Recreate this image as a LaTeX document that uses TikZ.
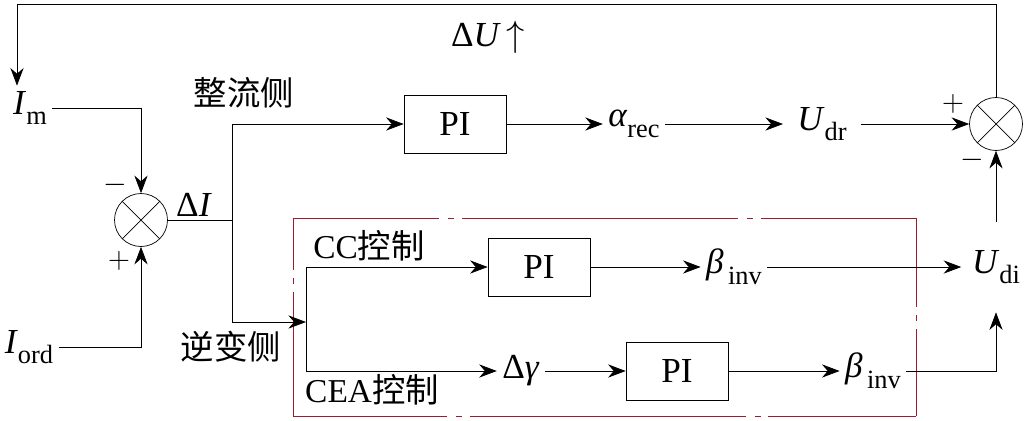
\documentclass[tikz,border=0pt]{standalone}
\usepackage{fontspec}
\setmainfont{Liberation Serif}
\newfontfamily\cjk{Noto Sans CJK SC}
\usetikzlibrary{arrows.meta,positioning,calc}
\definecolor{boxred}{RGB}{160,25,45}
\newcommand{\sg}[2]{\textit{#1}\raisebox{-0.3em}{\fontsize{15}{15}\selectfont #2}}
\tikzset{
    -{Stealth[length=10pt,width=7.5pt]},line width=1pt,
    block/.style={rectangle,draw,minimum width=2.04cm,minimum height=1.16cm,font=\fontsize{20}{22}\selectfont},
    sum/.style={circle,draw,minimum size=1.06cm,inner sep=0pt,
        path picture={\draw[-] (path picture bounding box.north west) -- (path picture bounding box.south east)
            (path picture bounding box.north east) -- (path picture bounding box.south west);}},
    sig/.style={inner sep=3pt,font=\fontsize{20}{22}\selectfont},
    pm/.style={inner sep=0pt,font=\fontsize{18}{20}\selectfont},
    cn/.style={inner sep=0pt,font=\fontsize{19}{22}\selectfont},
    redside/.style={-,draw=boxred,dash pattern=on 157pt off 5pt on 3.4pt off 4.5pt,dash phase=#1}
}
\begin{document}
\begin{tikzpicture}[x=0.02cm,y=-0.02cm]
    \useasboundingbox (0,0) rectangle (1027,420);

    % summing points
    \node[sum] (sumL) at (141,220) {};
    \node[sum] (sumR) at (996,124) {};
    \node[pm] (mL) at (115,185) {$-$};
    \node[pm] (pL) at (119,261) {$+$};
    \node[pm] (pR) at (953,104) {$+$};
    \node[pm] (mR) at (972,160) {$-$};

    % inputs
    \node[sig] (Im) at (30,108) {\sg{I}{m}};
    \node[sig] (Iord) at (29,347) {\sg{I}{ord}};
    \node[sig] (dI) at (194,205) {Δ\textit{I}};
    \node[sig] (dU) at (488,37) {Δ\textit{U}\,$\uparrow$};

    % rectifier side
    \node[cn] (rect) at (244,93) {\cjk 整流侧};
    \node[block] (PIr) at (455,124) {PI};
    \node[sig] (arec) at (634,124) {\sg{α}{rec}};
    \node[sig,inner xsep=8pt] (Udr) at (822,124) {\sg{U}{dr}};

    % inverter side
    \node[cn] (inv) at (231,347) {\cjk 逆变侧};
    \node[cn] (cc) at (369,246) {CC{\cjk 控制}};
    \node[cn] (cea) at (372,390) {CEA{\cjk 控制}};
    \node[block] (PIc) at (539,267) {PI};
    \node[sig] (binv1) at (734,267) {\sg{β}{\,inv}};
    \node[sig] (dg) at (521,371) {Δ\textit{γ}};
    \node[block] (PIe) at (677,371) {PI};
    \node[sig] (binv2) at (873,371) {\sg{β}{\,inv}};
    \node[sig,inner xsep=6pt,minimum height=1.8cm] (Udi) at (996,267) {\sg{U}{di}};

    % control box
    \draw[redside=73.7pt] (293,218) -- (916,218);
    \draw[redside=106.6pt] (916,218) -- (916,416);
    \draw[redside=69.2pt] (293,416) -- (916,416);
    \draw[redside=127.6pt] (293,218) -- (293,416);

    \coordinate (split) at (232,220);
    \coordinate (jn) at (306,322);
    \coordinate (fb) at (17,4);

    % connections
    \draw (Im) -| (sumL);
    \draw (Iord) -| (sumL);
    \draw[-] (sumL) -- (split);
    \draw (split) |- (PIr);
    \draw (split) |- (jn);
    \draw (PIr) -- (arec);
    \draw (arec) -- (Udr);
    \draw (Udr) -- (sumR);
    \draw (sumR) |- (fb) -- (fb |- Im.north);
    \draw (jn) |- (PIc);
    \draw (jn) |- (dg);
    \draw (PIc) -- (binv1);
    \draw (binv1) -- (binv1 -| Udi.west);
    \draw (dg) -- (PIe);
    \draw (PIe) -- (binv2);
    \draw (binv2) -| (Udi);
    \draw (Udi) -- (sumR);
\end{tikzpicture}
\end{document}
